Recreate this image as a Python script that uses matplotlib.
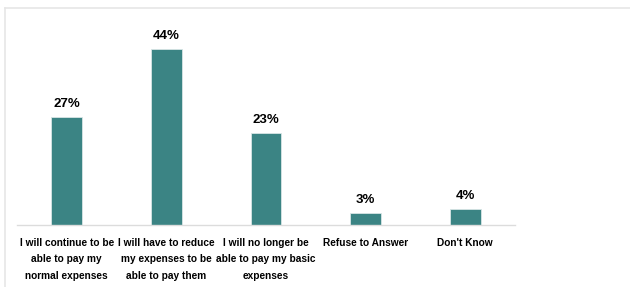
import matplotlib.pyplot as plt
import numpy as np

categories = ["I will continue to be\nable to pay my\nnormal expenses",
              "I will have to reduce\nmy expenses to be\nable to pay them",
              "I will no longer be\nable to pay my basic\nexpenses",
              "Refuse to Answer",
              "Don't Know"]
values = [27, 44, 23, 3, 4]

plt.rcParams['font.family'] = ['Liberation Sans', 'DejaVu Sans']

fig = plt.figure(figsize=(6.3, 2.87), dpi=100)
ax = fig.add_axes([17/630, 62/287, 498/630, 200/287])

x = np.arange(len(values))
ax.bar(x, values, width=0.31, color='#3b8484', edgecolor='#d8e6e6', linewidth=0.6)
for xi, v in zip(x, values):
    ax.text(xi, v + 1.7, f"{v}%", ha='center', va='bottom', fontsize=9.5, fontweight='bold')

ax.set_xlim(-0.5, 4.5)
ax.set_ylim(0, 50)
ax.set_yticks([])
ax.set_xticks(x)
ax.set_xticklabels(categories, fontsize=7.3, fontweight='bold', linespacing=1.85)
ax.tick_params(axis='x', length=0, pad=9)
for s in ['top', 'right', 'left']:
    ax.spines[s].set_visible(False)
ax.spines['bottom'].set_color('#dcdcdc')
ax.spines['bottom'].set_linewidth(1)

# light frame around the chart
fig.add_artist(plt.Line2D([5/630, 5/630], [0, 1 - 8/287], color='#e6e6e6', lw=1.2))
fig.add_artist(plt.Line2D([5/630, 1], [1 - 8/287, 1 - 8/287], color='#e6e6e6', lw=1.2))

fig.savefig('out.png', dpi=100)
